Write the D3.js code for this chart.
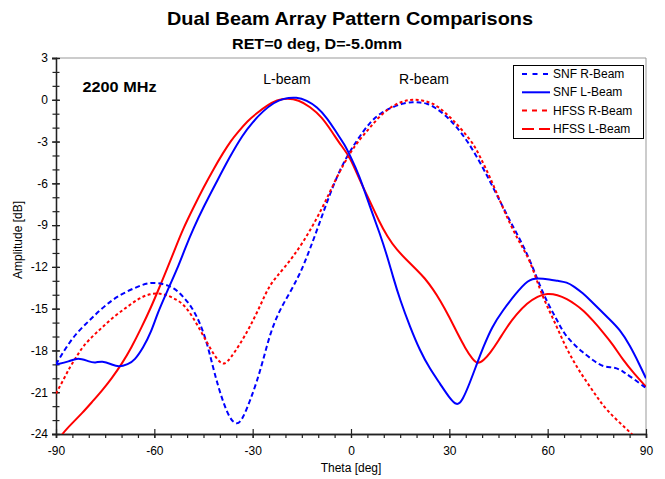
<!DOCTYPE html>
<html><head><meta charset="utf-8">
<script src="https://cdn.jsdelivr.net/npm/d3@7"></script>
<style>body{margin:0;background:#fff;font-family:"Liberation Sans",Arial,sans-serif}</style>
</head><body><svg id="c" width="665" height="479"></svg>
<script>
// ---- data (theta in deg, amplitude in dB) ----
const snfLTheta = [-90,-86,-83.3,-80,-78,-76,-73,-71,-68,-66,-63.4,-61,-59,-56,-53.1,-50.5,-48,-45,-41,-37,-33,-30,-26.8,-23.5,-20.7,-16.5,-13.5,-10.4,-7.3,-4.3,-2,-0.3,2.5,5.8,8.8,11,12.8,15,18,21,24,27.2,30,32.3,34,36.3,38.5,40.3,43,46.4,50,54,57,60.7,63,65.9,68,70.8,73,76,79,82,85,88,90];
const snfLVals  = [-19.0,-18.8,-18.5,-18.8,-18.9,-18.75,-19.0,-19.2,-19.0,-18.7,-17.8,-16.7,-15.3,-13.7,-12.2,-10.6,-9.2,-7.7,-5.9,-4.1,-2.5,-1.6,-0.8,-0.2,0.1,0.2,-0.05,-0.5,-1.3,-2.4,-3.2,-4.0,-5.4,-7.7,-9.6,-11.2,-12.7,-14.4,-16.3,-18.0,-19.3,-20.4,-21.4,-22.0,-21.6,-20.3,-18.9,-17.8,-16.3,-15.1,-14.0,-12.9,-12.8,-12.9,-13.0,-13.1,-13.4,-13.9,-14.4,-15.1,-15.8,-16.5,-17.6,-19.0,-20.0];

const hfssLTheta = [-90,-88.2,-85,-82,-79,-76,-73,-70,-67,-64,-61,-58.5,-56.2,-53.5,-51.3,-48,-45,-42,-39,-36.5,-34.8,-31.5,-28.7,-25.5,-22.6,-19.5,-16,-12.5,-9,-5.5,-3,-0.3,2.7,5.8,8.5,11,14,17,20,22.5,25,27.2,30,32.3,35,37,38.6,40.5,42.4,45,47.6,50.5,53.7,57,59.8,63,65.9,68.5,70.8,74,76.9,80,83,86.5,90];
const hfssLVals  = [-24.7,-24.0,-23.2,-22.5,-21.7,-20.9,-20.0,-19.0,-17.8,-16.4,-14.9,-13.5,-12.2,-10.6,-9.3,-7.7,-6.3,-5.0,-3.8,-2.9,-2.4,-1.5,-0.95,-0.4,0.0,0.1,0.0,-0.5,-1.2,-2.4,-3.3,-4.1,-5.8,-7.3,-8.7,-9.8,-10.8,-11.5,-12.2,-12.8,-13.6,-14.4,-15.6,-16.7,-17.9,-18.6,-19.0,-18.7,-18.2,-17.3,-16.3,-15.4,-14.6,-14.1,-13.9,-14.0,-14.3,-14.7,-15.1,-15.9,-16.7,-17.6,-18.7,-19.7,-20.6];

const snfRTheta = [-90,-87,-83.6,-80,-76.6,-73,-69.6,-65,-61.3,-57.4,-54,-51.3,-48.5,-46.1,-44,-42.1,-40.5,-39,-37,-34.8,-33,-30.8,-28.8,-26.8,-24.7,-22,-19,-16.5,-14.6,-10.4,-6.4,-2.4,1.8,5.8,9,12.8,16,18.9,21,23.2,26,29.3,32,35.4,39.4,42.5,45.5,48.5,51.5,54.6,57.7,60,62.8,65,67.7,70.5,73.8,76.9,80.5,83,86,90];
const snfRVals  = [-19.0,-17.8,-16.7,-15.9,-15.1,-14.4,-13.9,-13.4,-13.1,-13.2,-13.5,-14.1,-14.9,-16.0,-17.4,-19.2,-20.6,-21.7,-22.9,-23.4,-22.9,-21.6,-20.3,-18.7,-16.8,-15.2,-14.0,-12.9,-12.0,-9.4,-6.7,-4.5,-2.9,-1.6,-0.95,-0.5,-0.25,-0.15,-0.2,-0.25,-0.6,-1.2,-1.9,-2.9,-4.5,-5.9,-7.3,-8.7,-10.0,-11.5,-13.4,-14.6,-15.8,-16.8,-17.5,-18.1,-18.7,-19.2,-19.2,-19.5,-20.0,-20.7];

const hfssRTheta = [-90,-87.5,-85.8,-83.6,-81.8,-78.5,-75.7,-72,-68.4,-65,-61.3,-57.4,-54.5,-51.3,-48.5,-46.1,-44,-42.1,-40,-38.5,-36.9,-34,-30.8,-27.5,-24.7,-20.7,-14.6,-8.5,-4.3,-0.3,2.8,5.8,9,12.8,16,18.9,22,25,28,31.1,34,37.2,39.4,42.5,45.5,48.5,51.5,54.6,57.7,60,62.8,65,67.7,70,72.9,75.5,78.1,82,85.7,88];
const hfssRVals  = [-21.1,-20.0,-19.2,-18.4,-17.7,-16.9,-16.3,-15.5,-14.9,-14.3,-13.9,-13.9,-14.2,-14.6,-15.5,-16.5,-17.4,-18.2,-18.9,-19.0,-18.6,-17.6,-16.3,-14.7,-13.2,-12.2,-10.3,-7.7,-5.5,-3.8,-2.8,-2.0,-1.1,-0.4,-0.1,0.05,-0.05,-0.25,-0.75,-1.45,-2.2,-3.1,-4.1,-5.6,-7.3,-8.9,-10.3,-11.5,-13.7,-14.9,-16.3,-17.5,-18.7,-19.6,-20.6,-21.5,-22.3,-23.2,-24.0,-24.6];

const xTicks = [-90,-60,-30,0,30,60,90];
const yTicks = [3,0,-3,-6,-9,-12,-15,-18,-21,-24];
const seriesNames = ["SNF R-Beam","SNF L-Beam","HFSS R-Beam","HFSS L-Beam"];

// ---- layout ----
const svg = d3.select("#c");
const L = 56, R = 646, T = 58, B = 434;
const x = d3.scaleLinear().domain([-90,90]).range([L,R]);
const y = d3.scaleLinear().domain([-24,3]).range([B,T]);

svg.append("defs").append("clipPath").attr("id","clip")
  .append("rect").attr("x",L).attr("y",T).attr("width",R-L).attr("height",B-T);

// frame (top/right gray)
svg.append("path").attr("d",`M${L},${T}H${R}V${B}`).attr("fill","none").attr("stroke","#999").attr("stroke-width",1);

// axes
const yMinor = d3.range(-24,3.01,1);
const xMinor = d3.range(-90,90.01,5);
const yAx = svg.append("g").attr("transform",`translate(${L},0)`)
  .call(d3.axisLeft(y).tickValues(yMinor).tickSize(4).tickFormat(""));
yAx.selectAll(".tick line").attr("x2",-3.5).attr("x1",3.5);
const yAxM = svg.append("g").attr("transform",`translate(${L},0)`)
  .call(d3.axisLeft(y).tickValues(yTicks).tickSize(4).tickPadding(4).tickFormat(d=>d));
yAxM.selectAll(".tick line").attr("x1",4);
const xAx = svg.append("g").attr("transform",`translate(0,${B})`)
  .call(d3.axisBottom(x).tickValues(xMinor).tickSize(4).tickFormat(""));
const xAxM = svg.append("g").attr("transform",`translate(0,${B})`)
  .call(d3.axisBottom(x).tickValues(xTicks).tickSize(4).tickPadding(8).tickFormat(d=>d));
xAxM.selectAll(".tick line").attr("y1",-5);
[yAx,yAxM,xAx,xAxM].forEach(g=>{
  g.selectAll(".domain").attr("stroke","#222").attr("stroke-width",1.3);
  g.selectAll(".tick line").attr("stroke","#222").attr("stroke-width",1.2);
  g.selectAll("text").attr("font-family","Liberation Sans, Arial, sans-serif").attr("font-size",12).attr("fill","#000");
});

// series
const line = d3.line().x(d=>x(d[0])).y(d=>y(d[1])).curve(d3.curveBasis);
const series = [
  {th:hfssLTheta, v:hfssLVals, color:"#ff0000", dash:null},
  {th:snfRTheta, v:snfRVals, color:"#0000ff", dash:"5,3"},
  {th:hfssRTheta, v:hfssRVals, color:"#ff0000", dash:"3,2.5"},
  {th:snfLTheta, v:snfLVals, color:"#0000ff", dash:null},
];
const gS = svg.append("g").attr("clip-path","url(#clip)");
series.forEach(s=>{
  gS.append("path").datum(s.th.map((t,i)=>[t,s.v[i]]))
    .attr("d",line).attr("fill","none").attr("stroke",s.color).attr("stroke-width",2)
    .attr("stroke-dasharray",s.dash);
});

// texts
const F = "Liberation Sans, Arial, sans-serif";
svg.append("text").attr("x",350).attr("y",24.5).attr("text-anchor","middle").attr("font-family",F)
  .attr("font-size",19).attr("font-weight","bold")
  .attr("textLength",366).attr("lengthAdjust","spacingAndGlyphs").text("Dual Beam Array Pattern Comparisons");
svg.append("text").attr("x",317).attr("y",48.5).attr("text-anchor","middle").attr("font-family",F)
  .attr("font-size",15).attr("font-weight","bold")
  .attr("textLength",170).attr("lengthAdjust","spacingAndGlyphs").text("RET=0 deg, D=-5.0mm");
svg.append("text").attr("x",82.5).attr("y",92).attr("font-family",F)
  .attr("font-size",14).attr("font-weight","bold")
  .attr("textLength",74).attr("lengthAdjust","spacingAndGlyphs").text("2200 MHz");
svg.append("text").attr("x",287).attr("y",84).attr("text-anchor","middle").attr("font-family",F)
  .attr("font-size",14).text("L-beam");
svg.append("text").attr("x",424).attr("y",84).attr("text-anchor","middle").attr("font-family",F)
  .attr("font-size",14).text("R-beam");
svg.append("text").attr("x",351).attr("y",472).attr("text-anchor","middle").attr("font-family",F)
  .attr("font-size",12).text("Theta [deg]");
svg.append("text").attr("transform","translate(22,240) rotate(-90)").attr("text-anchor","middle").attr("font-family",F)
  .attr("font-size",12).text("Amplitude [dB]");

// legend
const lg = svg.append("g");
lg.append("rect").attr("x",513.5).attr("y",65.5).attr("width",130).attr("height",73)
  .attr("fill","#fff").attr("stroke","#000").attr("stroke-width",1);
const legItems = [
  {name:seriesNames[0], color:"#0000ff", dash:"5,5.5"},
  {name:seriesNames[1], color:"#0000ff", dash:null},
  {name:seriesNames[2], color:"#ff0000", dash:"5,5"},
  {name:seriesNames[3], color:"#ff0000", dash:"12,5"},
];
legItems.forEach((d,i)=>{
  const yy = 74 + i*18.3;
  lg.append("line").attr("x1",522).attr("x2",550).attr("y1",yy).attr("y2",yy)
    .attr("stroke",d.color).attr("stroke-width",2).attr("stroke-dasharray",d.dash);
  lg.append("text").attr("x",553).attr("y",yy+4).attr("font-family",F).attr("font-size",12).text(d.name);
});
</script></body></html>
